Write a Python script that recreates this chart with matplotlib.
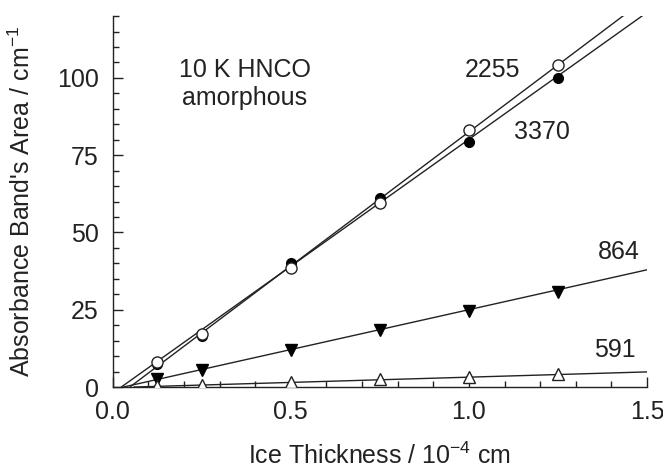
import numpy as np
import matplotlib.pyplot as plt
from matplotlib.ticker import MultipleLocator

plt.rcParams["font.family"] = ["Liberation Sans", "DejaVu Sans"]
plt.rcParams["mathtext.fontset"] = "custom"
plt.rcParams["mathtext.rm"] = "Liberation Sans"

# Ice thickness (10^-4 cm)
thickness = [0.125, 0.25, 0.5, 0.75, 1.0, 1.25]

# Band areas (cm^-1)
area_2255 = [8.0, 17.0, 38.5, 59.5, 83.3, 104.2]
area_3370 = [7.5, 16.5, 40.0, 61.0, 79.3, 99.8]
area_864 = [2.5, 5.5, 12.0, 18.5, 24.5, 30.8]
area_591 = [0.3, 0.8, 1.5, 2.5, 3.3, 4.1]

# linear fits: (slope, x-intercept)
fit_2255 = (86.7, 0.048)
fit_3370 = (82.1, 0.024)
fit_864 = (25.8, 0.03)
fit_591 = (3.4, 0.06)

ink = "#222222"
fs = 18

fig = plt.figure(figsize=(6.63, 4.72), dpi=100)
ax = fig.add_axes([0.170, 0.180, 0.806, 0.786])

xx = np.linspace(0, 1.5, 300)
for slope, x0 in [fit_2255, fit_3370, fit_864, fit_591]:
    yy = slope * (xx - x0)
    mask = yy >= 0
    ax.plot(xx[mask], yy[mask], color=ink, lw=1.0, zorder=2)

ax.plot(thickness, area_3370, "o", ms=7, mfc="black", mec="black", zorder=3)
ax.plot(thickness, area_2255, "o", ms=8, mfc="white", mec=ink, mew=1.0, zorder=4)
ax.plot(thickness, area_864, "v", ms=8, mfc="black", mec="black", zorder=3)
ax.plot(thickness, area_591, "^", ms=8, mfc="white", mec=ink, mew=1.0, zorder=3)

ax.set_xlim(0, 1.5)
ax.set_ylim(0, 120)
ax.set_xticks([0.0, 0.5, 1.0, 1.5])
ax.set_xticklabels(["0.0", "0.5", "1.0", "1.5"])
ax.set_yticks([0, 25, 50, 75, 100])
ax.xaxis.set_minor_locator(MultipleLocator(0.1))
ax.yaxis.set_minor_locator(MultipleLocator(5))
ax.tick_params(which="both", direction="in", colors=ink, labelsize=fs, width=1.0)
ax.tick_params(which="major", length=7)
ax.tick_params(which="minor", length=4)
ax.tick_params(axis="x", pad=9)
ax.tick_params(axis="y", pad=10)

for side in ["top", "right"]:
    ax.spines[side].set_visible(False)
for side in ["left", "bottom"]:
    ax.spines[side].set_color(ink)
    ax.spines[side].set_linewidth(1.0)

ax.set_xlabel("Ice Thickness / 10$^{-4}$ cm", fontsize=fs, color=ink)
ax.set_ylabel("Absorbance Band's Area / cm$^{-1}$", fontsize=fs, color=ink)
ax.xaxis.set_label_coords(0.5, -0.15)
ax.yaxis.set_label_coords(-0.145, 0.5)

ax.text(0.37, 98, "10 K HNCO\namorphous", fontsize=fs, color=ink,
        ha="center", va="center", linespacing=1.2)
ax.text(1.065, 102.6, "2255", fontsize=fs, color=ink, ha="center", va="center")
ax.text(1.205, 82.5, "3370", fontsize=fs, color=ink, ha="center", va="center")
ax.text(1.42, 43.7, "864", fontsize=fs, color=ink, ha="center", va="center")
ax.text(1.41, 12, "591", fontsize=fs, color=ink, ha="center", va="center")

fig.savefig("out.png", dpi=100)
